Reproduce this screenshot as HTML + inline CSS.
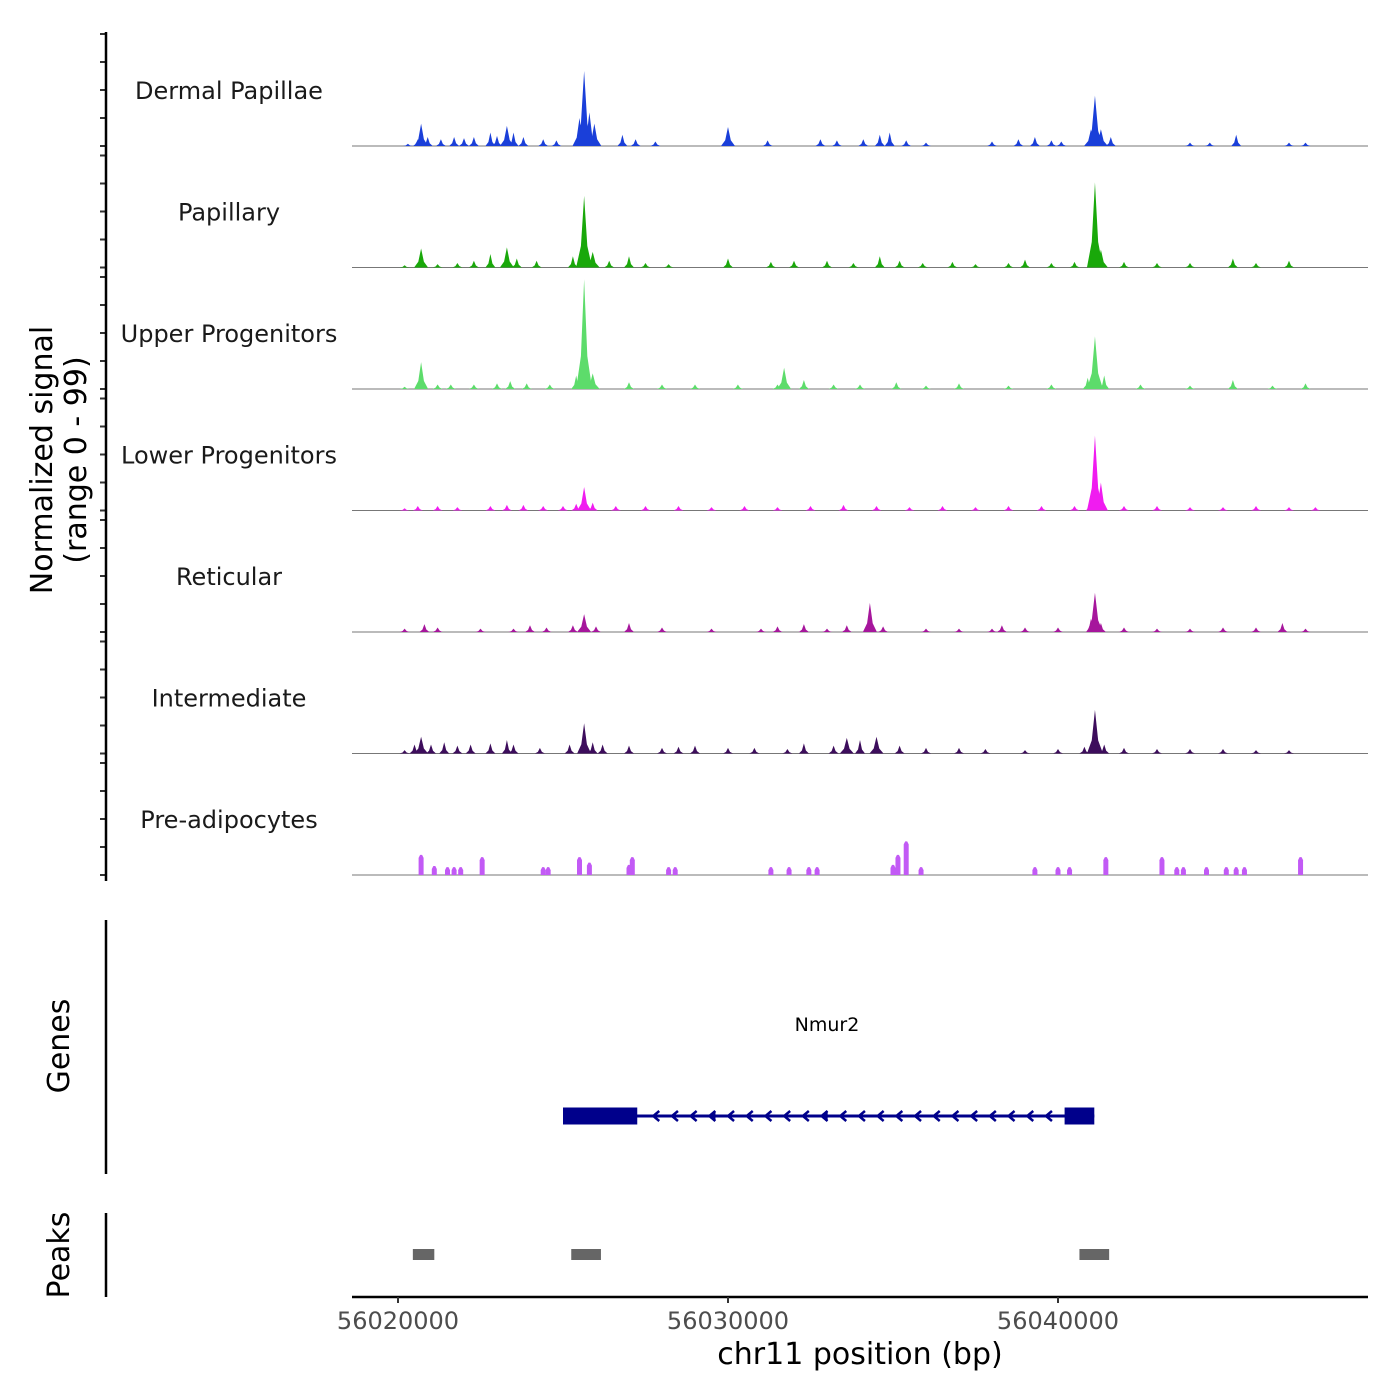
<!DOCTYPE html>
<html><head><meta charset="utf-8"><style>
body{margin:0;background:#fff;}
svg{display:block;font-family:"DejaVu Sans","Liberation Sans",sans-serif;}
</style></head><body>
<svg id="chart" width="1400" height="1400" viewBox="0 0 1400 1400" xmlns="http://www.w3.org/2000/svg">
<g id="tracks"></g>
<g id="axes"></g>
</svg>
<script>
// Track names and colours
const trackNames = ["Dermal Papillae","Papillary","Upper Progenitors","Lower Progenitors","Reticular","Intermediate","Pre-adipocytes"];
const trackColors = ["#1a3fd9","#19a80a","#5ddc6b","#f01cf0","#a6169c","#3d0d5c","#c25af5"];
// peak positions in kb from 56020000, values in signal units (0-99)
const dpPos = [0.3,0.6,0.7,0.9,1.3,1.7,2.0,2.3,2.8,3.0,3.3,3.5,3.8,4.4,4.8,5.5,5.64,5.8,5.95,6.8,7.2,7.8,10.0,11.2,12.8,13.3,14.1,14.6,14.9,15.4,16.0,18.0,18.8,19.3,19.8,20.1,21.0,21.12,21.3,21.6,24.0,24.6,25.4,27.0,27.5];
const dpVal = [2,6,20,8,6,8,7,8,12,9,18,12,8,6,5,25,67,30,20,10,6,4,17,5,6,5,6,10,12,5,3,4,6,8,5,4,15,45,15,8,3,3,10,3,3];
const paPos = [0.2,0.7,1.2,1.8,2.3,2.8,3.3,3.6,4.2,5.3,5.64,5.9,6.4,7.0,7.5,8.2,10.0,11.3,12.0,13.0,13.8,14.6,15.2,15.9,16.8,17.5,18.5,19.0,19.8,20.5,21.12,21.3,22.0,23.0,24.0,25.3,26.0,27.0];
const paVal = [2,17,3,4,6,12,18,8,6,10,64,14,6,10,4,3,8,5,6,6,4,10,6,4,5,3,4,7,4,5,76,16,5,4,4,8,4,6];
const upPos = [0.2,0.7,1.2,1.6,2.3,3.0,3.4,3.9,4.6,5.4,5.64,5.9,7.0,8.0,9.0,10.3,11.5,11.7,12.3,13.2,14.0,15.1,16.0,17.0,18.5,19.8,20.9,21.12,21.4,22.5,24.0,25.3,26.5,27.5];
const upVal = [2,24,4,4,4,5,7,5,4,12,98,14,6,4,4,4,4,19,8,4,4,6,3,5,3,4,10,47,12,4,3,8,3,5];
const loPos = [0.2,0.6,1.2,1.8,2.8,3.3,3.8,4.4,5.0,5.4,5.64,5.9,6.6,7.5,8.5,9.5,10.5,11.5,12.5,13.5,14.5,15.5,16.5,17.5,18.5,19.5,20.5,21.0,21.12,21.3,22.0,23.0,24.0,25.0,26.0,27.0,27.8];
const loVal = [2,4,4,3,4,5,5,4,4,6,21,7,4,4,4,3,4,3,4,5,4,3,4,3,4,4,4,12,67,25,4,4,3,3,4,3,3];
const rePos = [0.2,0.8,1.2,2.5,3.5,4.0,4.5,5.3,5.64,6.0,7.0,8.0,9.5,11.0,11.5,12.3,13.0,13.6,14.3,14.7,16.0,17.0,18.0,18.3,19.0,20.0,21.0,21.12,21.3,22.0,23.0,24.0,25.0,26.0,26.8,27.5];
const reVal = [3,7,4,3,3,6,4,6,16,5,8,4,3,3,5,7,3,6,26,5,3,3,3,6,4,4,12,35,8,4,3,3,4,4,8,3];
const inPos = [0.2,0.5,0.7,1.0,1.4,1.8,2.2,2.8,3.3,3.5,4.3,5.2,5.64,5.9,6.2,7.0,8.0,8.5,9.0,10.0,10.8,11.8,12.3,13.2,13.6,14.0,14.5,15.2,16.0,17.0,17.8,19.0,20.0,20.8,21.12,21.4,22.0,23.0,24.0,25.0,26.0,27.0];
const inVal = [3,8,15,8,10,7,8,9,12,8,5,8,27,10,8,7,5,6,7,5,5,4,9,7,14,12,15,7,5,5,4,3,4,6,39,8,5,4,4,4,3,3];
const prPos = [0.7,1.1,1.5,1.7,1.9,2.55,4.4,4.55,5.5,5.8,7.0,7.1,8.2,8.4,11.3,11.85,12.45,12.7,15.0,15.15,15.4,15.85,19.3,20.0,20.35,21.45,23.15,23.6,23.8,24.5,25.1,25.4,25.65,27.35];
const prVal = [18,8,7,7,7,16,7,7,16,11,9,16,7,7,7,7,7,7,9,18,30,7,7,7,7,16,16,7,7,7,7,7,7,16];
const trackPos = [dpPos,paPos,upPos,loPos,rePos,inPos,prPos];
const trackVal = [dpVal,paVal,upVal,loVal,reVal,inVal,prVal];
const xTicks = [56020000,56030000,56040000];
// gene model (bp)
const geneStart = 56025000, geneEnd = 56041100;
const exons = [[56025000,56027250],[56040200,56041100],[56029550,56029620],[56032950,56033020]];
const peakRegions = [[56020450,56021100],[56025250,56026150],[56040650,56041550]];

const NS="http://www.w3.org/2000/svg";
function xs(bp){return 398+(bp-56020000)*0.033;}
function baseY(i){return 146+i*121.5;}
function ys(i,v){return baseY(i)-v*1.12;}
function mk(tag,attrs,parent){const e=document.createElementNS(NS,tag);for(const k in attrs)e.setAttribute(k,attrs[k]);parent.appendChild(e);return e;}
const tracks=document.getElementById('tracks'), axes=document.getElementById('axes');

trackNames.forEach((name,i)=>{
  const g=mk('g',{},tracks);
  
  
  const by=baseY(i);
  const bl=mk('line',{x1:352,x2:1368,y1:by,y2:by,stroke:'#777','stroke-width':1},g);
  
  
  const pos=trackPos[i], val=trackVal[i];
  pos.forEach((p,j)=>{
    const x=xs(56020000+p*1000), y=ys(i,val[j]);
    let d;
    if(i===6){d=`M${x-2.5},${by}L${x-2.5},${y+3}L${x-1},${y}L${x+1},${y}L${x+2.5},${y+3}L${x+2.5},${by}Z`;}
    else{const w=val[j]>30?8:(val[j]>12?7:5);d=`M${x-w},${by}L${x-w*0.4},${by-(by-y)*0.3}L${x},${y}L${x+w*0.4},${by-(by-y)*0.3}L${x+w},${by}Z`;}
    const pk=mk('path',{d:d,fill:trackColors[i]},g);
    
    
  });
  const t=mk('text',{x:229,y:by-47,'text-anchor':'middle','font-size':'24',fill:'#1a1a1a'},g);
  t.textContent=name;
  
  
  for(let k=0;k<=4;k++){
    const ty=by-k*28;
    const tk=mk('line',{x1:100,x2:106,y1:ty,y2:ty,stroke:'#333','stroke-width':2},axes);
    
    
  }
});
// y axis
let a=mk('line',{x1:106,x2:106,y1:32,y2:881,stroke:'#000','stroke-width':2.5},axes);

let yt=mk('text',{transform:'translate(52,460) rotate(-90)','text-anchor':'middle','font-size':'30',fill:'#000'},axes);
yt.textContent='Normalized signal';
yt=mk('text',{transform:'translate(86,460) rotate(-90)','text-anchor':'middle','font-size':'30',fill:'#000'},axes);
yt.textContent='(range 0 - 99)';

// genes panel
const gp=mk('g',{},tracks);

a=mk('line',{x1:106,x2:106,y1:920,y2:1174,stroke:'#000','stroke-width':2.5},gp);

yt=mk('text',{transform:'translate(69,1046) rotate(-90)','text-anchor':'middle','font-size':'30',fill:'#000'},gp);
yt.textContent='Genes';
const gy=1116;
a=mk('line',{x1:xs(geneStart),x2:xs(geneEnd),y1:gy,y2:gy,stroke:'#00008b','stroke-width':3},gp);

for(let x=xs(56027250)+18;x<xs(56040200)-5;x+=18.7){
  const ar=mk('path',{d:`M${x+4},${gy-5}L${x-2},${gy}L${x+4},${gy+5}`,stroke:'#00008b','stroke-width':2.5,fill:'none'},gp);
  
}
exons.forEach((e,k)=>{
  const h=k<2?17:10;
  const r=mk('rect',{x:xs(e[0]),y:gy-h/2,width:xs(e[1])-xs(e[0]),height:h,fill:'#00008b'},gp);
  
});
yt=mk('text',{x:827,y:1031,'text-anchor':'middle','font-size':'19',fill:'#000'},gp);
yt.textContent='Nmur2';

// peaks panel
const pp=mk('g',{},tracks);

a=mk('line',{x1:106,x2:106,y1:1213,y2:1297,stroke:'#000','stroke-width':2.5},pp);

yt=mk('text',{transform:'translate(69,1255) rotate(-90)','text-anchor':'middle','font-size':'30',fill:'#000'},pp);
yt.textContent='Peaks';
peakRegions.forEach(p=>{
  const r=mk('rect',{x:xs(p[0]),y:1249,width:xs(p[1])-xs(p[0]),height:11,fill:'#666'},pp);
  
});

// x axis
a=mk('line',{x1:352,x2:1368,y1:1297,y2:1297,stroke:'#000','stroke-width':2.5},axes);

xTicks.forEach(v=>{
  const tk=mk('line',{x1:xs(v),x2:xs(v),y1:1297,y2:1303,stroke:'#333','stroke-width':2},axes);
  
  const tl=mk('text',{x:xs(v),y:1329,'text-anchor':'middle','font-size':'24',fill:'#4d4d4d'},axes);
  tl.textContent=String(v);
});
yt=mk('text',{x:860,y:1364,'text-anchor':'middle','font-size':'30',fill:'#000'},axes);
yt.textContent='chr11 position (bp)';
</script>
</body></html>
